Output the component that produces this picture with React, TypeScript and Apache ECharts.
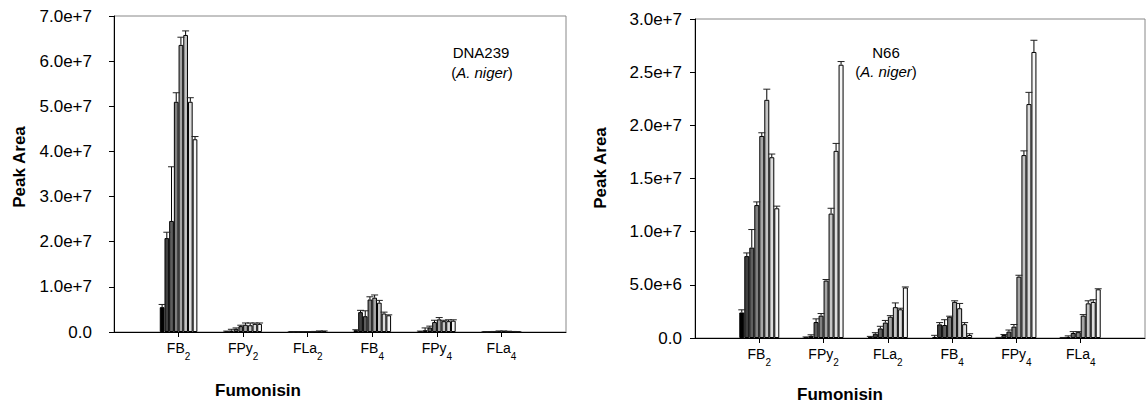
import React, { useEffect, useRef } from 'react';
import * as echarts from 'echarts';

const categories = ['FB2', 'FPy2', 'FLa2', 'FB4', 'FPy4', 'FLa4'];
const axisCategories = ['', ...categories, ''];

// DNA239 (A. niger) — 8 bars per fumonisin
const dnaFB2 = [5.5e6, 2.08e7, 2.46e7, 5.1e7, 6.36e7, 6.58e7, 5.1e7, 4.27e7];
const dnaFB2Sd = [6e5, 1.3e6, 1.2e7, 2.0e6, 1.7e6, 9e5, 9e5, 6e5];
const dnaFPy2 = [1e5, 3e5, 7e5, 1.3e6, 1.6e6, 1.5e6, 1.8e6, 1.8e6];
const dnaFPy2Sd = [1e5, 3e5, 2e5, 2e5, 4e5, 5e5, 2e5, 2e5];
const dnaFLa2 = [3e4, 4e4, 5e4, 5e4, 6e4, 1e5, 2e5, 2e5];
const dnaFLa2Sd = [1e4, 1e4, 1e4, 2e4, 2e4, 3e4, 3e4, 3e4];
const dnaFB4 = [4e5, 4.4e6, 3.5e6, 7.2e6, 7.6e6, 6.5e6, 4.1e6, 3.7e6];
const dnaFB4Sd = [1e5, 4e5, 1.2e6, 6e5, 6e5, 5e5, 3e5, 1e5];
const dnaFPy4 = [1e5, 4e5, 1.0e6, 2.2e6, 2.8e6, 2.4e6, 2.4e6, 2.5e6];
const dnaFPy4Sd = [1e5, 5e5, 3e5, 4e5, 4e5, 2e5, 3e5, 2e5];
const dnaFLa4 = [3e4, 5e4, 1e5, 2e5, 2e5, 1.5e5, 1e5, 5e4];
const dnaFLa4Sd = [1e4, 1e4, 2e4, 3e4, 3e4, 2e4, 2e4, 1e4];

// N66 (A. niger)
const n66FB2 = [2.4e6, 7.7e6, 8.5e6, 1.25e7, 1.9e7, 2.24e7, 1.7e7, 1.22e7];
const n66FB2Sd = [2.5e5, 3e5, 1.7e6, 3e5, 3e5, 1.0e6, 3e5, 2e5];
const n66FPy2 = [5e4, 2e5, 1.5e6, 2.1e6, 5.4e6, 1.17e7, 1.76e7, 2.57e7];
const n66FPy2Sd = [5e4, 1e5, 3e5, 2e5, 1e5, 5e5, 7e5, 3e5];
const n66FLa2 = [5e4, 4e5, 9e5, 1.45e6, 2.0e6, 2.9e6, 2.7e6, 4.75e6];
const n66FLa2Sd = [1e5, 1e5, 2e5, 2e5, 1e5, 4e5, 1e5, 5e4];
const n66FB4 = [1e5, 1.28e6, 1.22e6, 2.0e6, 3.4e6, 2.8e6, 1.3e6, 2.8e5];
const n66FB4Sd = [1.5e5, 1.7e5, 5e5, 5e4, 1e5, 4.5e5, 1.5e5, 1.2e5];
const n66FPy4 = [3e4, 2.8e5, 6e5, 1.07e6, 5.77e6, 1.72e7, 2.2e7, 2.69e7];
const n66FPy4Sd = [3e4, 5e4, 1.5e5, 2e5, 1.3e5, 4e5, 1.1e6, 1.1e6];
const n66FLa4 = [3e4, 1e5, 4.7e5, 5.5e5, 2.1e6, 3.26e6, 3.39e6, 4.58e6];
const n66FLa4Sd = [2e4, 1e5, 1.3e5, 5e4, 1e5, 2.4e5, 2.1e5, 5e4];

const dnaMeans = [dnaFB2, dnaFPy2, dnaFLa2, dnaFB4, dnaFPy4, dnaFLa4];
const dnaSds = [dnaFB2Sd, dnaFPy2Sd, dnaFLa2Sd, dnaFB4Sd, dnaFPy4Sd, dnaFLa4Sd];
const n66Means = [n66FB2, n66FPy2, n66FLa2, n66FB4, n66FPy4, n66FLa4];
const n66Sds = [n66FB2Sd, n66FPy2Sd, n66FLa2Sd, n66FB4Sd, n66FPy4Sd, n66FLa4Sd];

const barShades = ['#000000', '#404040', '#5e5e5e', '#808080', '#a4a4a4', '#c4c4c4', '#dcdcdc', '#f6f6f6'];

const FONT = '"Liberation Sans", Arial, Helvetica, sans-serif';

function panelSeries(p: number, means: number[][], sds: number[][], barW: number) {
  const out: any[] = [];
  const n = barShades.length;
  for (let i = 0; i < n; i++) {
    out.push({
      type: 'bar',
      xAxisIndex: p,
      yAxisIndex: p,
      barWidth: barW,
      barGap: '0%',
      silent: true,
      data: [null, ...means.map((m) => m[i]), null],
      itemStyle: { color: barShades[i], borderColor: '#000', borderWidth: 1 },
    });
  }
  for (let i = 0; i < n; i++) {
    out.push({
      type: 'custom',
      xAxisIndex: p,
      yAxisIndex: p,
      silent: true,
      z: 3,
      data: means.map((m, k) => [k + 1, m[i], sds[k][i]]),
      renderItem: (params: any, api: any) => {
        const idx = api.value(0);
        const mean = api.value(1);
        const sd = api.value(2);
        const b = api.coord([idx, mean]);
        const t = api.coord([idx, mean + sd]);
        const x = b[0] + (i - (n - 1) / 2) * barW;
        return {
          type: 'group',
          children: [
            { type: 'line', shape: { x1: x, y1: b[1], x2: x, y2: t[1] }, style: { stroke: '#000', lineWidth: 1 } },
            { type: 'line', shape: { x1: x - 3.5, y1: t[1], x2: x + 3.5, y2: t[1] }, style: { stroke: '#222', lineWidth: 1 } },
          ],
        };
      },
    });
  }
  return out;
}

const catFormatter = (v: string) => {
  if (!v) return '';
  const m = v.match(/^(.*?)(\d)$/);
  return m ? `{m|${m[1]}}{s|${m[2]}}` : v;
};
const catRich = {
  m: { fontSize: 14, lineHeight: 20, verticalAlign: 'top', fontFamily: FONT, color: '#000' },
  s: { fontSize: 10, lineHeight: 10, verticalAlign: 'bottom', fontFamily: FONT, color: '#000' },
};

function xAxisFor(p: number) {
  return {
    type: 'category',
    gridIndex: p,
    data: axisCategories,
    boundaryGap: false,
    axisLine: { show: true, lineStyle: { color: '#000', width: 1 } },
    axisTick: { show: true, length: 5, interval: (idx: number) => idx > 0 && idx < axisCategories.length - 1, lineStyle: { color: '#000' } },
    axisLabel: { interval: 0, margin: 9, formatter: catFormatter, rich: catRich },
    splitLine: { show: false },
  };
}

function yAxisFor(p: number, max: number, interval: number, margin: number) {
  return {
    type: 'value',
    gridIndex: p,
    min: 0,
    max,
    interval,
    axisLine: { show: true, lineStyle: { color: '#000', width: 1 } },
    axisTick: { show: true, length: 5, lineStyle: { color: '#000' } },
    axisLabel: {
      margin,
      fontSize: 17,
      fontFamily: FONT,
      color: '#000',
      formatter: (v: number) => (v === 0 ? '0.0' : v.toExponential(1)),
    },
    splitLine: { show: false },
  };
}

function txt(x: number, y: number, text: string, opts: any = {}) {
  return {
    type: 'text',
    x,
    y,
    z: 100,
    rotation: opts.rotation || 0,
    silent: true,
    style: {
      text,
      fontSize: opts.fontSize || 15,
      fontWeight: opts.bold ? 'bold' : 'normal',
      fontFamily: FONT,
      fill: '#000',
      textAlign: 'center',
      textVerticalAlign: 'middle',
      rich: opts.rich,
    },
  };
}

const italicRich = {
  n: { fontSize: 15, fontFamily: FONT, fill: '#000' },
  i: { fontSize: 15, fontFamily: FONT, fontStyle: 'italic', fill: '#000' },
};

export default function App() {
  const ref = useRef<HTMLDivElement>(null);
  useEffect(() => {
    if (!ref.current) return;
    const chart = echarts.init(ref.current, undefined, { renderer: 'svg' });
    chart.setOption({
      animation: false,
      backgroundColor: '#fff',
      textStyle: { fontFamily: FONT },
      grid: [
        { left: 114, top: 16, width: 452, height: 316, show: true, borderColor: '#888', borderWidth: 1, backgroundColor: 'transparent' },
        { left: 695, top: 19, width: 455, height: 319, show: true, borderColor: '#888', borderWidth: 1, backgroundColor: 'transparent' },
      ],
      xAxis: [xAxisFor(0), xAxisFor(1)],
      yAxis: [yAxisFor(0, 7e7, 1e7, 22), yAxisFor(1, 3e7, 5e6, 13)],
      series: [...panelSeries(0, dnaMeans, dnaSds, 4.7), ...panelSeries(1, n66Means, n66Sds, 5)],
      graphic: [
        txt(19, 167, 'Peak Area', { bold: true, fontSize: 17, rotation: Math.PI / 2 }),
        txt(600, 168, 'Peak Area', { bold: true, fontSize: 17, rotation: Math.PI / 2 }),
        txt(258, 390, 'Fumonisin', { bold: true, fontSize: 17 }),
        txt(840, 394, 'Fumonisin', { bold: true, fontSize: 17 }),
        txt(481, 52, 'DNA239', { fontSize: 15 }),
        txt(482, 72, '{n|(}{i|A. niger}{n|)}', { fontSize: 15, rich: italicRich }),
        txt(886, 52, 'N66', { fontSize: 15 }),
        txt(886, 71, '{n|(}{i|A. niger}{n|)}', { fontSize: 15, rich: italicRich }),
      ],
    });
    return () => chart.dispose();
  }, []);
  return <div ref={ref} style={{ position: 'fixed', left: 0, top: 0, width: 1148, height: 404 }} />;
}
